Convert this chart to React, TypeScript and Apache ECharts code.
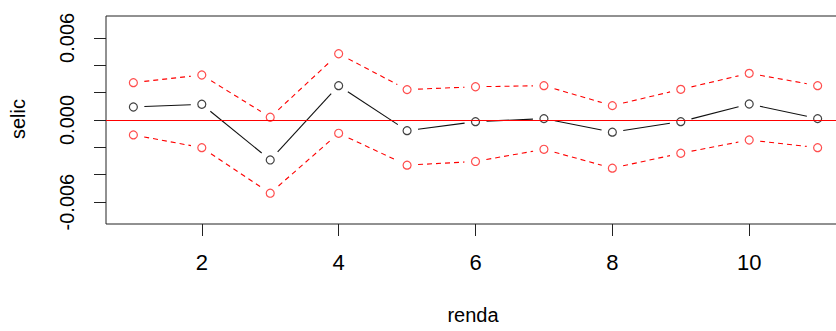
import React, { useEffect, useRef } from "react";
import * as echarts from "echarts";

const steps = [1, 2, 3, 4, 5, 6, 7, 8, 9, 10, 11];
const response = [0.00095, 0.00115, -0.00292, 0.00251, -0.00078, -0.00012, 0.0001, -0.00089, -0.00012, 0.00117, 0.0001];
const upperBand = [0.00273, 0.00329, 0.0002, 0.00484, 0.00222, 0.00243, 0.00251, 0.00105, 0.00224, 0.00341, 0.00251];
const lowerBand = [-0.00109, -0.00202, -0.00535, -0.00097, -0.0033, -0.00303, -0.00214, -0.00352, -0.00243, -0.00146, -0.00202];
const xTicks = [2, 4, 6, 8, 10];
const yTicks = [-0.006, -0.004, -0.002, 0, 0.002, 0.004, 0.006];
const yLabelTicks = [-0.006, 0, 0.006];
const xTitle = "renda";
const yTitle = "selic";

const FONT = "Liberation Sans, Arial, sans-serif";

export default function App() {
  const ref = useRef<HTMLDivElement>(null);
  useEffect(() => {
    const chart = echarts.init(ref.current!, null, { renderer: "svg" });
    const pairs = (vals: number[]) => steps.map((s, i) => [s, vals[i]]);
    // R type = "b": segments between points, stopped short of each point
    const segments = (vals: number[]) =>
      steps.slice(0, -1).map((s, i) => [s, vals[i], steps[i + 1], vals[i + 1]]);
    const GAP = 11;
    const lineSeries = (vals: number[], color: string, dash: number[] | null) => ({
      type: "custom",
      data: segments(vals),
      silent: true,
      z: 2,
      renderItem: (params: any, api: any) => {
        const p1 = api.coord([api.value(0), api.value(1)]);
        const p2 = api.coord([api.value(2), api.value(3)]);
        const dx = p2[0] - p1[0];
        const dy = p2[1] - p1[1];
        const len = Math.sqrt(dx * dx + dy * dy);
        if (len <= 2 * GAP) return { type: "group", children: [] };
        const ux = dx / len;
        const uy = dy / len;
        return {
          type: "line",
          shape: {
            x1: p1[0] + ux * GAP,
            y1: p1[1] + uy * GAP,
            x2: p2[0] - ux * GAP,
            y2: p2[1] - uy * GAP,
          },
          style: { stroke: color, lineWidth: 1.1, lineDash: dash || undefined, fill: null },
        };
      },
    });
    const pointSeries = (vals: number[], color: string) => ({
      type: "scatter",
      data: pairs(vals),
      symbol: "circle",
      symbolSize: 8,
      silent: true,
      itemStyle: { color: "rgba(0,0,0,0)", borderColor: color, borderWidth: 1.2 },
      z: 4,
    });
    chart.setOption({
      animation: false,
      grid: {
        left: 106,
        top: 16,
        right: 15,
        bottom: 107,
        show: true,
        borderColor: "#222",
        borderWidth: 1,
        backgroundColor: "transparent",
      },
      xAxis: {
        type: "value",
        min: 0.6,
        max: 11.4,
        axisLine: { show: false, onZero: false },
        splitLine: { show: false },
        axisTick: { show: true, length: 12, customValues: xTicks, lineStyle: { color: "#222" } },
        axisLabel: {
          customValues: xTicks,
          fontSize: 22,
          margin: 27,
          color: "#000",
          fontFamily: FONT,
        },
      },
      yAxis: {
        type: "value",
        min: -0.0076,
        max: 0.0076,
        axisLine: { show: false, onZero: false },
        splitLine: { show: false },
        axisTick: { show: true, length: 12, customValues: yTicks, lineStyle: { color: "#222" } },
        axisLabel: {
          customValues: yLabelTicks,
          rotate: 90,
          fontSize: 20,
          margin: 29,
          color: "#000",
          fontFamily: FONT,
          formatter: (v: number) => v.toFixed(3),
        },
      },
      graphic: [
        {
          type: "text",
          x: 473,
          y: 315,
          style: { text: xTitle, align: "center", verticalAlign: "middle", fontSize: 20, fill: "#000", font: `20px ${FONT}` },
        },
        {
          type: "text",
          x: 18,
          y: 119,
          rotation: Math.PI / 2,
          style: { text: yTitle, align: "center", verticalAlign: "middle", fontSize: 20, fill: "#000", font: `20px ${FONT}` },
        },
      ],
      series: [
        lineSeries(response, "#111", null),
        lineSeries(upperBand, "#ff0000", [5, 4]),
        lineSeries(lowerBand, "#ff0000", [5, 4]),
        pointSeries(response, "#111"),
        pointSeries(upperBand, "#ff2020"),
        pointSeries(lowerBand, "#ff2020"),
        {
          type: "line",
          data: [],
          z: 6,
          markLine: {
            silent: true,
            symbol: ["none", "none"],
            label: { show: false },
            lineStyle: { color: "#ff0000", type: "solid", width: 1 },
            data: [{ yAxis: 0 }],
            z: 6,
          },
        },
      ],
    });
    return () => chart.dispose();
  }, []);
  return (
    <div style={{ position: "fixed", left: 0, top: 0, width: 836, height: 331, overflow: "hidden", background: "#fff" }}>
      <div ref={ref} style={{ width: 860, height: 331 }} />
    </div>
  );
}
